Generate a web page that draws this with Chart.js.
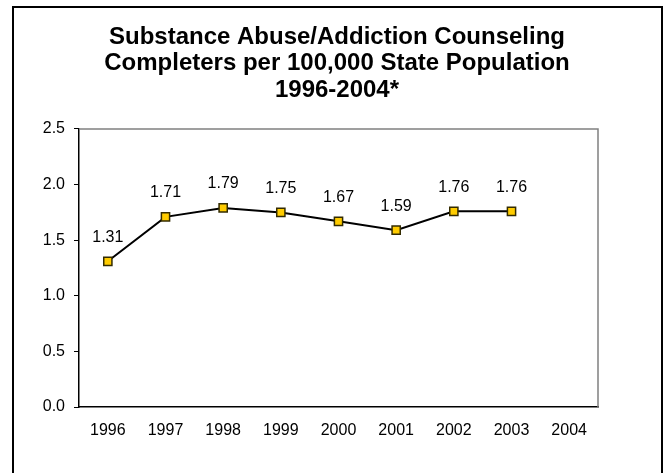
<!DOCTYPE html>
<html>
<head>
<meta charset="utf-8">
<script src="https://cdn.jsdelivr.net/npm/chart.js@4.4.1/dist/chart.umd.min.js"></script>
<style>
html,body{margin:0;padding:0;background:#fff;}
canvas{display:block;}
</style>
</head>
<body>
<canvas id="c" width="667" height="473"></canvas>
<script>
const years = ['1996','1997','1998','1999','2000','2001','2002','2003','2004'];
const completers = [1.31, 1.71, 1.79, 1.75, 1.67, 1.59, 1.76, 1.76, null];
const titleLines = ['Substance Abuse/Addiction Counseling', 'Completers per 100,000 State Population', '1996-2004*'];
const yMin = 0, yMax = 2.5, yStep = 0.5;

const FONT = "'Liberation Sans', Arial, sans-serif";

const framePlugin = {
  id: 'frame',
  beforeDraw(chart) {
    const ctx = chart.ctx;
    ctx.save();
    ctx.strokeStyle = '#000';
    ctx.lineWidth = 2;
    ctx.strokeRect(13, 7, 649, 500);
    ctx.restore();
  },
  beforeDatasetsDraw(chart) {
    const {ctx, chartArea: a} = chart;
    ctx.save();
    ctx.strokeStyle = '#808080';
    ctx.lineWidth = 1.5;
    ctx.beginPath();
    ctx.moveTo(a.left, a.top);
    ctx.lineTo(a.right, a.top);
    ctx.lineTo(a.right, a.bottom);
    ctx.stroke();
    ctx.restore();
  },
  afterDatasetsDraw(chart) {
    const ctx = chart.ctx;
    const meta = chart.getDatasetMeta(0);
    const ds = chart.data.datasets[0].data;
    ctx.save();
    ctx.font = '16px ' + FONT;
    ctx.fillStyle = '#000';
    ctx.textAlign = 'center';
    ctx.textBaseline = 'middle';
    meta.data.forEach((pt, i) => {
      if (ds[i] == null) return;
      ctx.fillText(ds[i].toFixed(2), pt.x, pt.y - 24);
    });
    ctx.restore();
  }
};

new Chart(document.getElementById('c'), {
  type: 'line',
  data: {
    labels: years,
    datasets: [{
      data: completers,
      borderColor: '#000',
      borderWidth: 2,
      pointStyle: 'rect',
      pointRadius: 5.8,
      pointHoverRadius: 5.8,
      pointBackgroundColor: '#FFCC00',
      pointBorderColor: '#332b00',
      pointBorderWidth: 1.5,
      tension: 0,
      fill: false
    }]
  },
  options: {
    responsive: false,
    animation: false,
    devicePixelRatio: 1,
    layout: { padding: { left: 7, right: 0, top: 0, bottom: 0 } },
    plugins: {
      legend: { display: false },
      tooltip: { enabled: false },
      title: {
        display: true,
        text: titleLines,
        color: '#000',
        font: { family: FONT, size: 24, weight: 'bold', lineHeight: 1.104 },
        padding: { top: 23.75, bottom: 25.75 }
      }
    },
    scales: {
      x: {
        type: 'category',
        offset: true,
        grid: { display: false, drawTicks: false },
        border: { display: true, color: '#000', width: 1.5 },
        ticks: { color: '#000', font: { family: FONT, size: 16 }, padding: 14, maxRotation: 0, autoSkip: false },
        afterFit(s) { s.height = 66; }
      },
      y: {
        min: yMin, max: yMax,
        grid: { drawOnChartArea: false, drawTicks: true, tickLength: 5, color: '#000', lineWidth: 1 },
        border: { display: true, color: '#000', width: 1.5 },
        ticks: { stepSize: yStep, color: '#000', font: { family: FONT, size: 16 }, padding: 9,
                 callback: v => Number(v).toFixed(1) },
        afterFit(s) { s.width = 72; }
      },
      y2: {
        position: 'right',
        display: true,
        grid: { display: false, drawTicks: false },
        border: { display: false },
        ticks: { display: false },
        afterFit(s) { s.width = 69; }
      }
    }
  },
  plugins: [framePlugin]
});
</script>
</body>
</html>
